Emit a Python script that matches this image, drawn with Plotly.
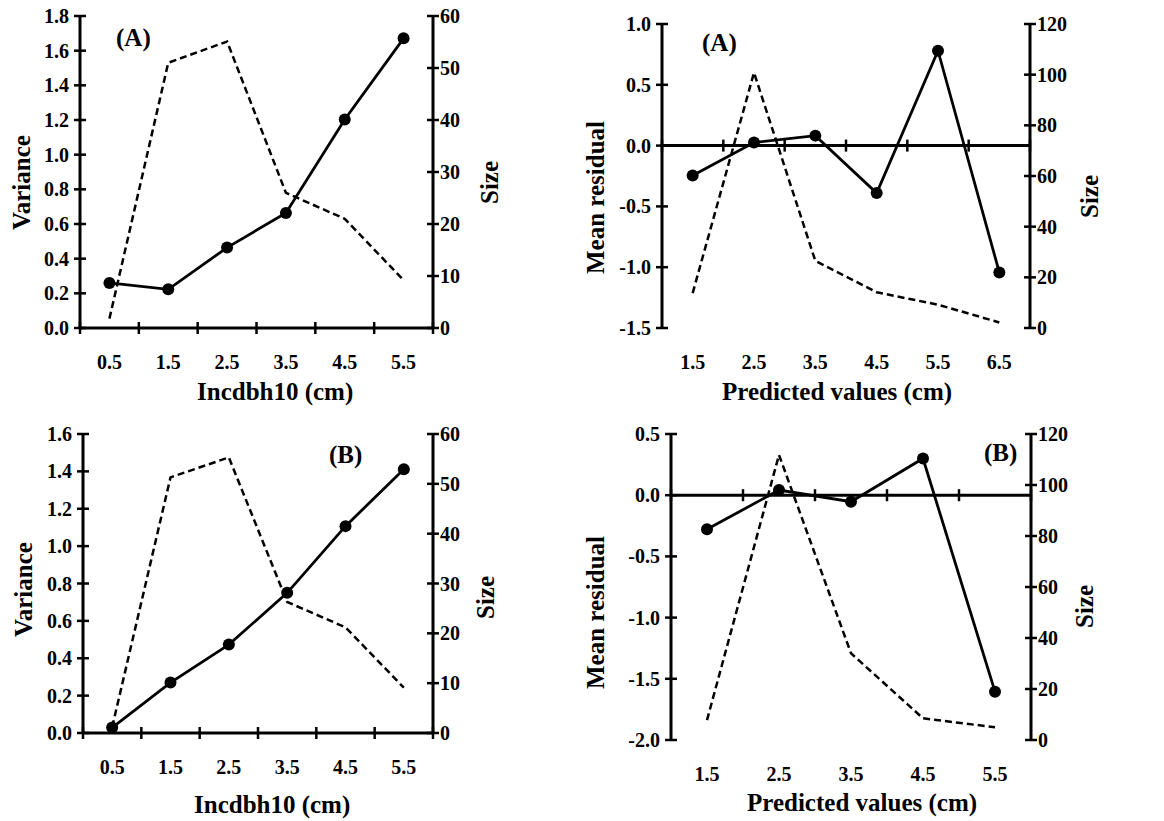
import plotly.graph_objects as go

# page is 1164x821; the html body adds an 8 px margin, so the figure is drawn 8 px smaller
PAGE_W, PAGE_H = 1164, 821
OFF = 8
W, H = PAGE_W - OFF, PAGE_H - OFF

# ---------------- data ----------------
# Panel 1 (top-left, A): Incdbh10
p1_x = [0.5, 1.5, 2.5, 3.5, 4.5, 5.5]
p1_variance = [0.26, 0.223, 0.464, 0.664, 1.203, 1.671]
p1_size = [1.8, 51.0, 55.1, 26.0, 21.0, 9.2]
p1_yticks = [0.0, 0.2, 0.4, 0.6, 0.8, 1.0, 1.2, 1.4, 1.6, 1.8]
p1_size_ticks = [0, 10, 20, 30, 40, 50, 60]

# Panel 2 (top-right, A): Predicted values
p2_x = [1.5, 2.5, 3.5, 4.5, 5.5, 6.5]
p2_residual = [-0.246, 0.025, 0.082, -0.39, 0.78, -1.043]
p2_size = [13.8, 100.8, 26.5, 14.1, 9.2, 2.2]
p2_yticks = [-1.5, -1.0, -0.5, 0.0, 0.5, 1.0]
p2_size_ticks = [0, 20, 40, 60, 80, 100, 120]

# Panel 3 (bottom-left, B): Incdbh10
p3_x = [0.5, 1.5, 2.5, 3.5, 4.5, 5.5]
p3_variance = [0.029, 0.27, 0.473, 0.75, 1.107, 1.411]
p3_size = [1.2, 51.3, 55.3, 26.3, 21.2, 9.1]
p3_yticks = [0.0, 0.2, 0.4, 0.6, 0.8, 1.0, 1.2, 1.4, 1.6]
p3_size_ticks = [0, 10, 20, 30, 40, 50, 60]

# Panel 4 (bottom-right, B): Predicted values
p4_x = [1.5, 2.5, 3.5, 4.5, 5.5]
p4_residual = [-0.279, 0.042, -0.053, 0.30, -1.605]
p4_size = [7.8, 111.8, 34.0, 8.5, 5.0]
p4_yticks = [-2.0, -1.5, -1.0, -0.5, 0.0, 0.5]
p4_size_ticks = [0, 20, 40, 60, 80, 100, 120]

FONT = "Liberation Serif"
TICKFONT = dict(family=FONT, size=20, color="black", weight="bold")
TITLEFONT = dict(family=FONT, size=25, color="black", weight="bold")
TAGFONT = dict(family=FONT, size=25, color="black", weight="bold")
TL = 6  # half tick length in px (ticks cross the axis lines)
AXW = 3  # axis line width
TKW = 2.5  # tick width


def fx(px):
    return (px - OFF) / W


def fy(py):
    return 1 - (py - OFF) / H


def lbl(v):
    return "%.1f" % v


panels = [
    dict(box=(80, 16, 433, 328), x=p1_x, main=p1_variance, size=p1_size,
         yt=p1_yticks, st=p1_size_ticks, xtitle="Incdbh10 (cm)", ytitle="Variance",
         tag="(A)", tagpos=(133, 38), ytpos=(22, 183), stpos=(490, 183), xtpos=(275, 392)),
    dict(box=(662, 24, 1030, 328), x=p2_x, main=p2_residual, size=p2_size,
         yt=p2_yticks, st=p2_size_ticks, xtitle="Predicted values (cm)", ytitle="Mean residual",
         tag="(A)", tagpos=(719, 43), ytpos=(596, 198), stpos=(1090, 197), xtpos=(837, 392)),
    dict(box=(83, 434, 433, 733), x=p3_x, main=p3_variance, size=p3_size,
         yt=p3_yticks, st=p3_size_ticks, xtitle="Incdbh10 (cm)", ytitle="Variance",
         tag="(B)", tagpos=(345, 455), ytpos=(23, 590), stpos=(485, 598), xtpos=(272, 805)),
    dict(box=(671, 434, 1031, 740), x=p4_x, main=p4_residual, size=p4_size,
         yt=p4_yticks, st=p4_size_ticks, xtitle="Predicted values (cm)", ytitle="Mean residual",
         tag="(B)", tagpos=(1000, 453), ytpos=(595, 613), stpos=(1084, 607), xtpos=(862, 803)),
]

fig = go.Figure()
layout = {}
annotations = []
shapes = []


def aid(n):
    return "" if n == 1 else str(n)


def seg(xa0, ya0, xa1, ya1, width):
    shapes.append(dict(type="line", xref="paper", yref="paper", x0=xa0, y0=ya0,
                       x1=xa1, y1=ya1, line=dict(color="black", width=width),
                       layer="above"))


for k, p in enumerate(panels):
    xa = k + 1
    ya, yc = 2 * k + 1, 2 * k + 2
    xref, yref, sref = "x" + aid(xa), "y" + aid(ya), "y" + aid(yc)
    x0, y0, x1, y1 = p["box"]
    xdom = [fx(x0), fx(x1)]
    ydom = [fy(y1), fy(y0)]
    xr = [p["x"][0] - 0.5, p["x"][-1] + 0.5]
    yr = [p["yt"][0], p["yt"][-1]]
    sr = [p["st"][0], p["st"][-1]]
    bounds = list(range(int(xr[0]), int(xr[1]) + 1))

    def ypos(v, r):
        return ydom[0] + (v - r[0]) / (r[1] - r[0]) * (ydom[1] - ydom[0])

    def xpos(v):
        return xdom[0] + (v - xr[0]) / (xr[1] - xr[0]) * (xdom[1] - xdom[0])

    fig.add_trace(go.Scatter(
        x=p["x"], y=p["size"], mode="lines",
        line=dict(color="black", width=2.5, dash="7px,4px"),
        xaxis=xref, yaxis=sref, showlegend=False))
    fig.add_trace(go.Scatter(
        x=p["x"], y=p["main"], mode="lines+markers",
        line=dict(color="black", width=2.8),
        marker=dict(color="black", size=12),
        xaxis=xref, yaxis=yref, showlegend=False, cliponaxis=False))

    layout["xaxis" + aid(xa)] = dict(
        domain=xdom, range=xr, showgrid=False, zeroline=False, automargin=False,
        anchor=yref, tickmode="array", tickvals=p["x"],
        ticktext=[lbl(v) for v in p["x"]], ticks="", showline=False,
        tickfont=TICKFONT, ticklabelstandoff=20, ticklabeloverflow="allow")
    layout["yaxis" + aid(ya)] = dict(
        domain=ydom, range=yr, anchor=xref, side="left", showgrid=False, zeroline=False,
        automargin=False, tickmode="array", tickvals=p["yt"],
        ticktext=[lbl(v) for v in p["yt"]], ticks="", showline=False,
        tickfont=TICKFONT, ticklabelstandoff=10, ticklabeloverflow="allow")
    layout["yaxis" + aid(yc)] = dict(
        range=sr, anchor=xref, side="right", overlaying=yref, showgrid=False, zeroline=False,
        automargin=False, tickmode="array", tickvals=p["st"],
        ticktext=[str(v) for v in p["st"]], ticks="", showline=False,
        tickfont=TICKFONT, ticklabelstandoff=6, ticklabeloverflow="allow")

    # axis lines drawn from the axis ranges
    zero = ypos(0, yr)
    seg(xdom[0], zero, xdom[1], zero, AXW)                    # horizontal axis at y = 0
    seg(xdom[0], ydom[0], xdom[0], ydom[1], AXW)              # left axis
    seg(xdom[1], ydom[0], xdom[1], ydom[1], AXW)              # right axis
    tx, ty = TL / W, TL / H
    for b in bounds:
        seg(xpos(b), zero - ty, xpos(b), zero + ty, TKW)
    for v in p["yt"]:
        seg(xdom[0] - tx, ypos(v, yr), xdom[0] + tx, ypos(v, yr), TKW)
    for v in p["st"]:
        seg(xdom[1] - tx, ypos(v, sr), xdom[1] + tx, ypos(v, sr), TKW)

    annotations.append(dict(text=p["xtitle"], x=fx(p["xtpos"][0]), y=fy(p["xtpos"][1]),
                            xref="paper", yref="paper", xanchor="center", yanchor="middle",
                            showarrow=False, font=TITLEFONT))
    annotations.append(dict(text=p["ytitle"], x=fx(p["ytpos"][0]), y=fy(p["ytpos"][1]),
                            xref="paper", yref="paper", xanchor="center", yanchor="middle",
                            showarrow=False, font=TITLEFONT, textangle=-90))
    annotations.append(dict(text="Size", x=fx(p["stpos"][0]), y=fy(p["stpos"][1]),
                            xref="paper", yref="paper", xanchor="center", yanchor="middle",
                            showarrow=False, font=TITLEFONT, textangle=-90))
    annotations.append(dict(text=p["tag"], x=fx(p["tagpos"][0]), y=fy(p["tagpos"][1]),
                            xref="paper", yref="paper", xanchor="center", yanchor="middle",
                            showarrow=False, font=TAGFONT))

fig.update_layout(
    width=W, height=H, margin=dict(l=0, r=0, t=0, b=0, autoexpand=False),
    paper_bgcolor="white", plot_bgcolor="white",
    annotations=annotations, shapes=shapes, **layout)

fig.write_html("out.html")
